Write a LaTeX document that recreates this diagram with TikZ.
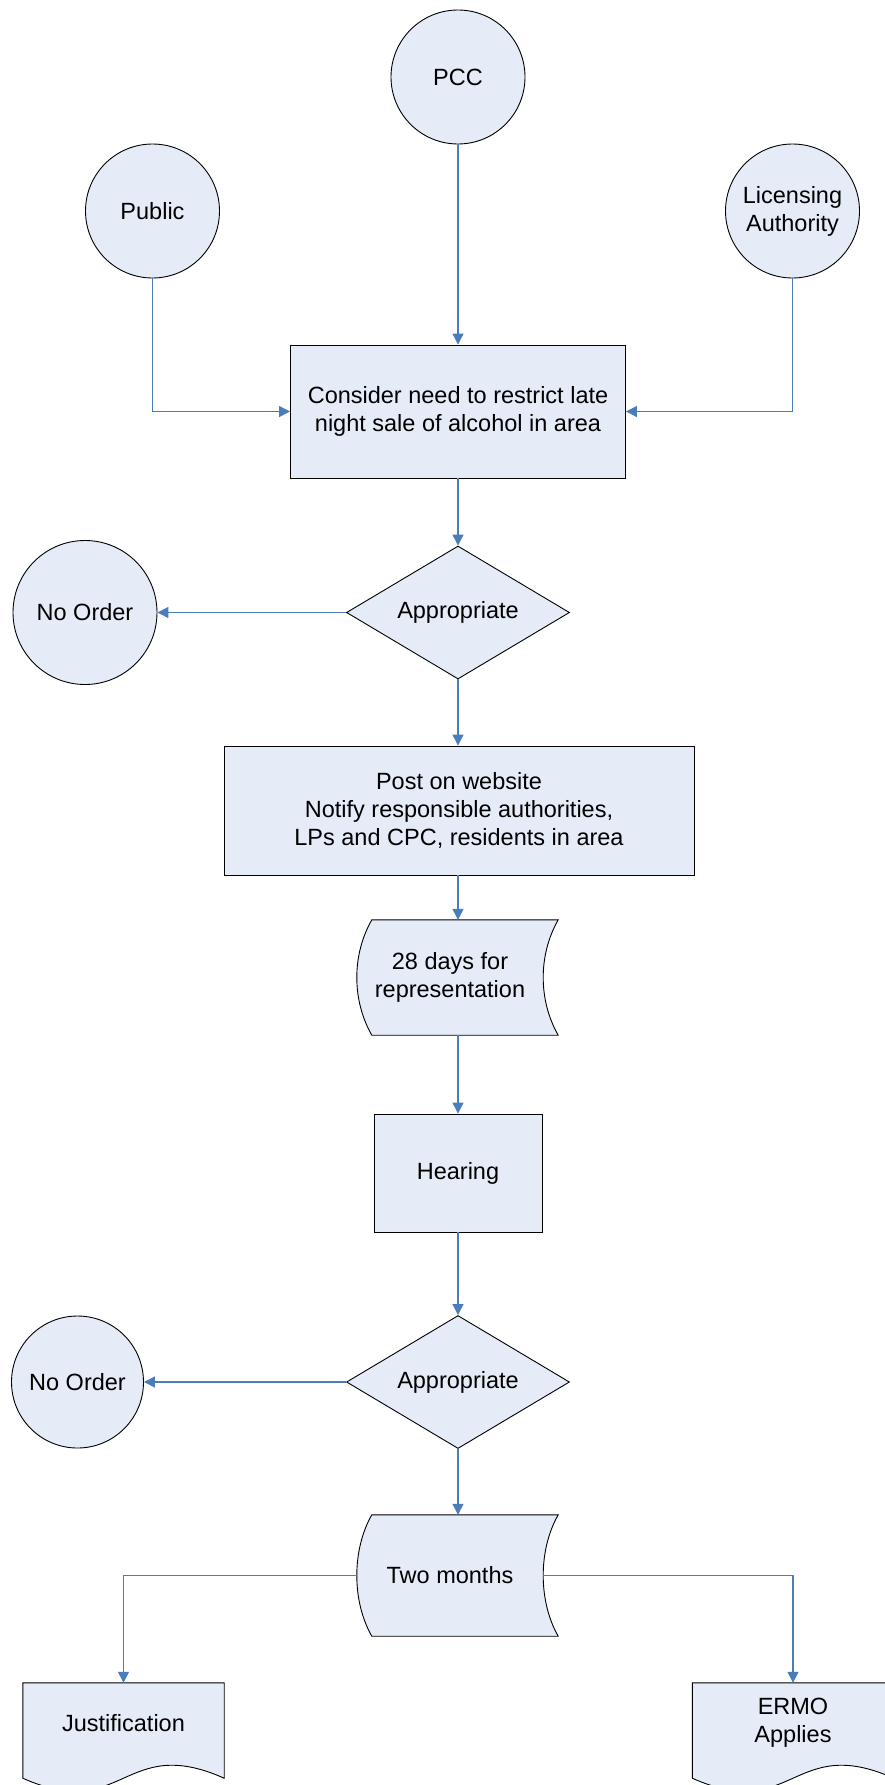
\documentclass[tikz,border=0pt]{standalone}
\usepackage{fontspec}
\setmainfont{Liberation Sans}
\usepackage{tikz}
\usetikzlibrary{arrows.meta,positioning,calc,shapes.geometric,backgrounds}

\definecolor{shapefill}{RGB}{230,236,247}
\definecolor{linkblue}{RGB}{74,126,187}

\begin{document}
\begin{tikzpicture}[x=1pt, y=-1pt,
  every node/.style={font=\fontsize{23.5}{28}\selectfont, align=center, inner sep=0pt},
  outline/.style={draw=black, line width=0.9pt, fill=shapefill},
  actor/.style={outline, circle, minimum size=134pt},
  process/.style={outline, rectangle},
  decision/.style={outline, diamond, minimum width=223pt, minimum height=133pt, aspect=1.68},
  link/.style={draw=linkblue, line width=1.1pt, -{Triangle[length=11pt, width=11pt]}}]
  \useasboundingbox (0,0) rectangle (885,1785);

  % Who can raise it
  \node[actor] (pcc) at (458,77) {PCC};
  \node[actor] (public) at (152.5,211) {Public};
  \node[actor] (licauth) at (792.5,211) {Licensing\\Authority};

  % Main column
  \node[process, minimum width=335pt, minimum height=133pt] (consider) at (458,411.5)
    {Consider need to restrict late\\night sale of alcohol in area};
  \node[decision] (appr1) at (458,612.5) {Appropriate};
  \node[actor, minimum size=144pt] (noorder1) at (85,612.5) {No Order};
  \node[process, minimum width=470pt, minimum height=129pt] (post) at (459,810.5)
    {Post on website\\Notify responsible authorities,\\LPs and CPC, residents in area};
  \node[minimum width=186pt, minimum height=115pt] (days) at (450,977.5)
    {28 days for\\representation};
  \node[process, minimum width=168pt, minimum height=118pt] (hearing) at (458,1173) {Hearing};
  \node[decision] (appr2) at (458,1382) {Appropriate};
  \node[actor, minimum size=132pt] (noorder2) at (77.5,1382) {No Order};
  \node[minimum width=186pt, minimum height=121pt] (months) at (450,1575.5) {Two months};

  % Outcomes
  \node[minimum width=201pt, minimum height=80pt] (justif) at (123.5,1723) {Justification};
  \node[minimum width=201pt, minimum height=80pt] (ermo) at (793,1723) {ERMO\\Applies};

  % stored data outlines and document outlines
  \begin{scope}[on background layer]
    \foreach \s in {days,months} {
      \draw[outline] ($(\s.north west)+(15,0)$) -- ($(\s.north east)+(15,0)$)
        .. controls ($(\s.north east)+(-5,35)$) and ($(\s.south east)+(-5,-35)$) ..
        ($(\s.south east)+(15,0)$) -- ($(\s.south west)+(15,0)$)
        .. controls ($(\s.south west)+(-5,-35)$) and ($(\s.north west)+(-5,35)$) .. cycle;
    }
    \foreach \s in {justif,ermo} {
      \draw[outline] (\s.north west) -- (\s.north east) -- ($(\s.south east)+(0,15)$)
        .. controls ($(\s.south)+(0,-30)$) and ($(\s.south)+(0,60)$) ..
        ($(\s.south west)+(0,15)$) -- cycle;
    }
  \end{scope}

  % Connectors
  \draw[link] (pcc.south) -- (pcc.south |- consider.north);
  \draw[link] (public.south) |- (consider.west);
  \draw[link] (licauth.south) |- (consider.east);
  \draw[link] (consider.south) -- (consider.south |- appr1.north);
  \draw[link] (appr1.west) -- (noorder1.east);
  \draw[link] (appr1.south) -- (appr1.south |- post.north);
  \draw[link] (appr1.south |- post.south) -- (appr1.south |- days.north);
  \draw[link] (hearing.north |- days.south) -- (hearing.north);
  \draw[link] (hearing.south) -- (appr2.north);
  \draw[link] (appr2.west) -- (noorder2.east);
  \draw[link] (appr2.south) -- (appr2.south |- months.north);
  \draw[link] (months.west) -| (justif.north);
  \draw[link] (months.east) -| (ermo.north);
\end{tikzpicture}
\end{document}
